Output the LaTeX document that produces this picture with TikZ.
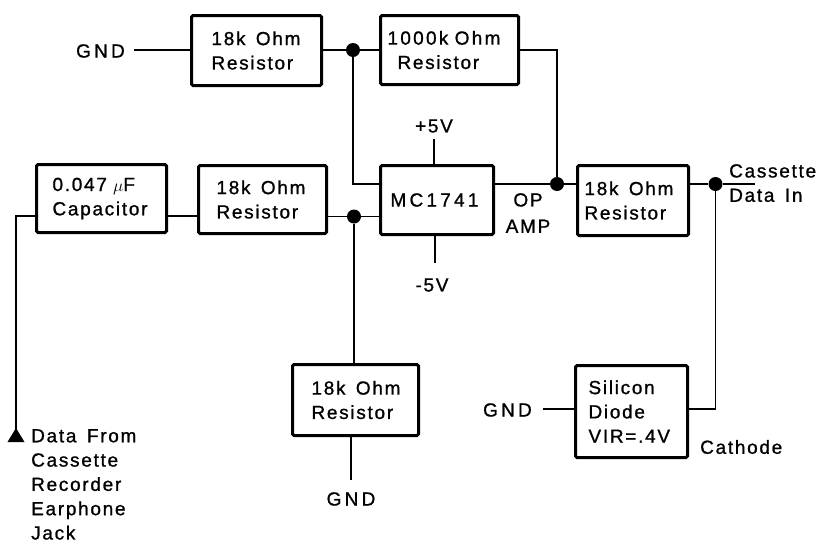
\documentclass[tikz,border=0pt]{standalone}
\usepackage{fontspec}
\setmainfont[LetterSpace=9,FakeBold=1,WordSpace=1.5]{Liberation Sans}
\newcommand\ind[1]{\hspace*{#1pt}}
\newcommand\capsp{\addfontfeature{LetterSpace=17}}
\newcommand\okO{18k \hspace{4pt}Ohm}
\tikzset{
  box/.style={draw,line width=3pt,rounded corners=1.5pt,inner sep=0pt,align=left,anchor=north west,font=\fontsize{19}{24.3}\selectfont},
  lab/.style={inner sep=0pt,align=left,font=\fontsize{19}{24.3}\selectfont},
  wire/.style={line width=1.7pt},
  dot/.style={circle,fill=black,inner sep=0pt,minimum size=14pt}
}
\begin{document}
\begin{tikzpicture}[x=1pt,y=-1pt]
\useasboundingbox (0,0) rectangle (820,547);
\node[box,text width=130pt,minimum height=70pt] (r1) at (190,14) {\ind{20}\okO\\\ind{20}Resistor};
\node[box,text width=138pt,minimum height=69pt] (r2) at (379,14) {\ind{7}\addfontfeature{LetterSpace=12}1000k Ohm\\\addfontfeature{LetterSpace=9}\ind{17}Resistor};
\node[box,text width=130pt,minimum height=68pt] (cap) at (35,163) {\ind{16}0.047 $\mu$F\\\ind{16}Capacitor};
\node[box,text width=128pt,minimum height=68pt] (r3) at (197,164) {\ind{18}\okO\\\ind{18}Resistor};
\node[box,text width=113pt,minimum height=69pt] (op) at (379,164) {\ind{10}\capsp MC1741};
\node[box,text width=111pt,minimum height=70pt] (r4) at (576,164) {\ind{7}\okO\\\ind{7}Resistor};
\node[box,text width=126pt,minimum height=71pt] (r5) at (291,363) {\ind{19}\okO\\\ind{19}Resistor};
\node[box,text width=112pt,minimum height=92pt] (di) at (574,364) {\ind{13}Silicon\\\ind{13}Diode\\\ind{13}VIR=.4V};

\node[dot] (d1) at (353,50) {};
\node[dot] (d2) at (354,216.5) {};
\node[dot] (d3) at (557,184) {};
\node[dot] (d4) at (715.5,184) {};

\node[lab,anchor=east] (g1) at (125,51) {\capsp GND};
\node[lab] (g2) at (351,499) {\capsp GND};
\node[lab,anchor=east] (g3) at (532,410) {\capsp GND};
\node[lab] (p5) at (434,126) {+5V};
\node[lab] (m5) at (432,285) {-5V};
\node[lab,align=center] (opamp) at (528,213) {OP\\[2pt]AMP};
\node[lab,anchor=north west] (ci) at (729,164) {Cassette\\Data In};
\node[lab,anchor=west] (ca) at (700,447) {Cathode};
\node[lab,anchor=north west] (df) at (31,429) {Data From\\Cassette\\Recorder\\Earphone\\Jack};

\coordinate (gr1) at (134,50);
\coordinate (gr3) at (543,409);
\coordinate (pt) at (434,139);
\coordinate (pb) at (435,263);
\coordinate (gb) at (351,480);
\coordinate (out) at (755,184);
\coordinate (ar) at (16,442);

\draw[wire] (gr1) -- (r1.west |- gr1);
\draw[wire] (r1.east |- d1) -- (d1) -- (r2.west |- d1);
\draw[wire] (r2.east |- d1) -| (d3);
\draw[wire] (d1) -- (353,184) -- (op.west |- 0,184);
\draw[wire] (pt) -- (pt |- op.north);
\draw[wire] (pb) -- (pb |- op.south);
\draw[wire] (op.east |- d3) -- (d3) -- (r4.west |- d3);
\draw[wire] (r4.east |- d4) -- (d4) -- (out);
\draw[wire] (di.east |- gr3) -| (d4);
\draw[wire] (gr3) -- (di.west |- gr3);
\draw[wire] (r3.east |- d2) -- (d2) -- (op.west |- d2);
\draw[wire] (d2) -- (r5.north -| d2);
\draw[wire] (r5.south -| gb) -- (gb);
\draw[wire] (cap.east |- 0,216) -- (r3.west |- 0,216);
\draw[wire] (cap.west |- 0,216) -| (ar);
\fill (ar) ++(0,-14) -- ++(8.5,14) -- ++(-17,0) -- cycle;
\end{tikzpicture}
\end{document}
